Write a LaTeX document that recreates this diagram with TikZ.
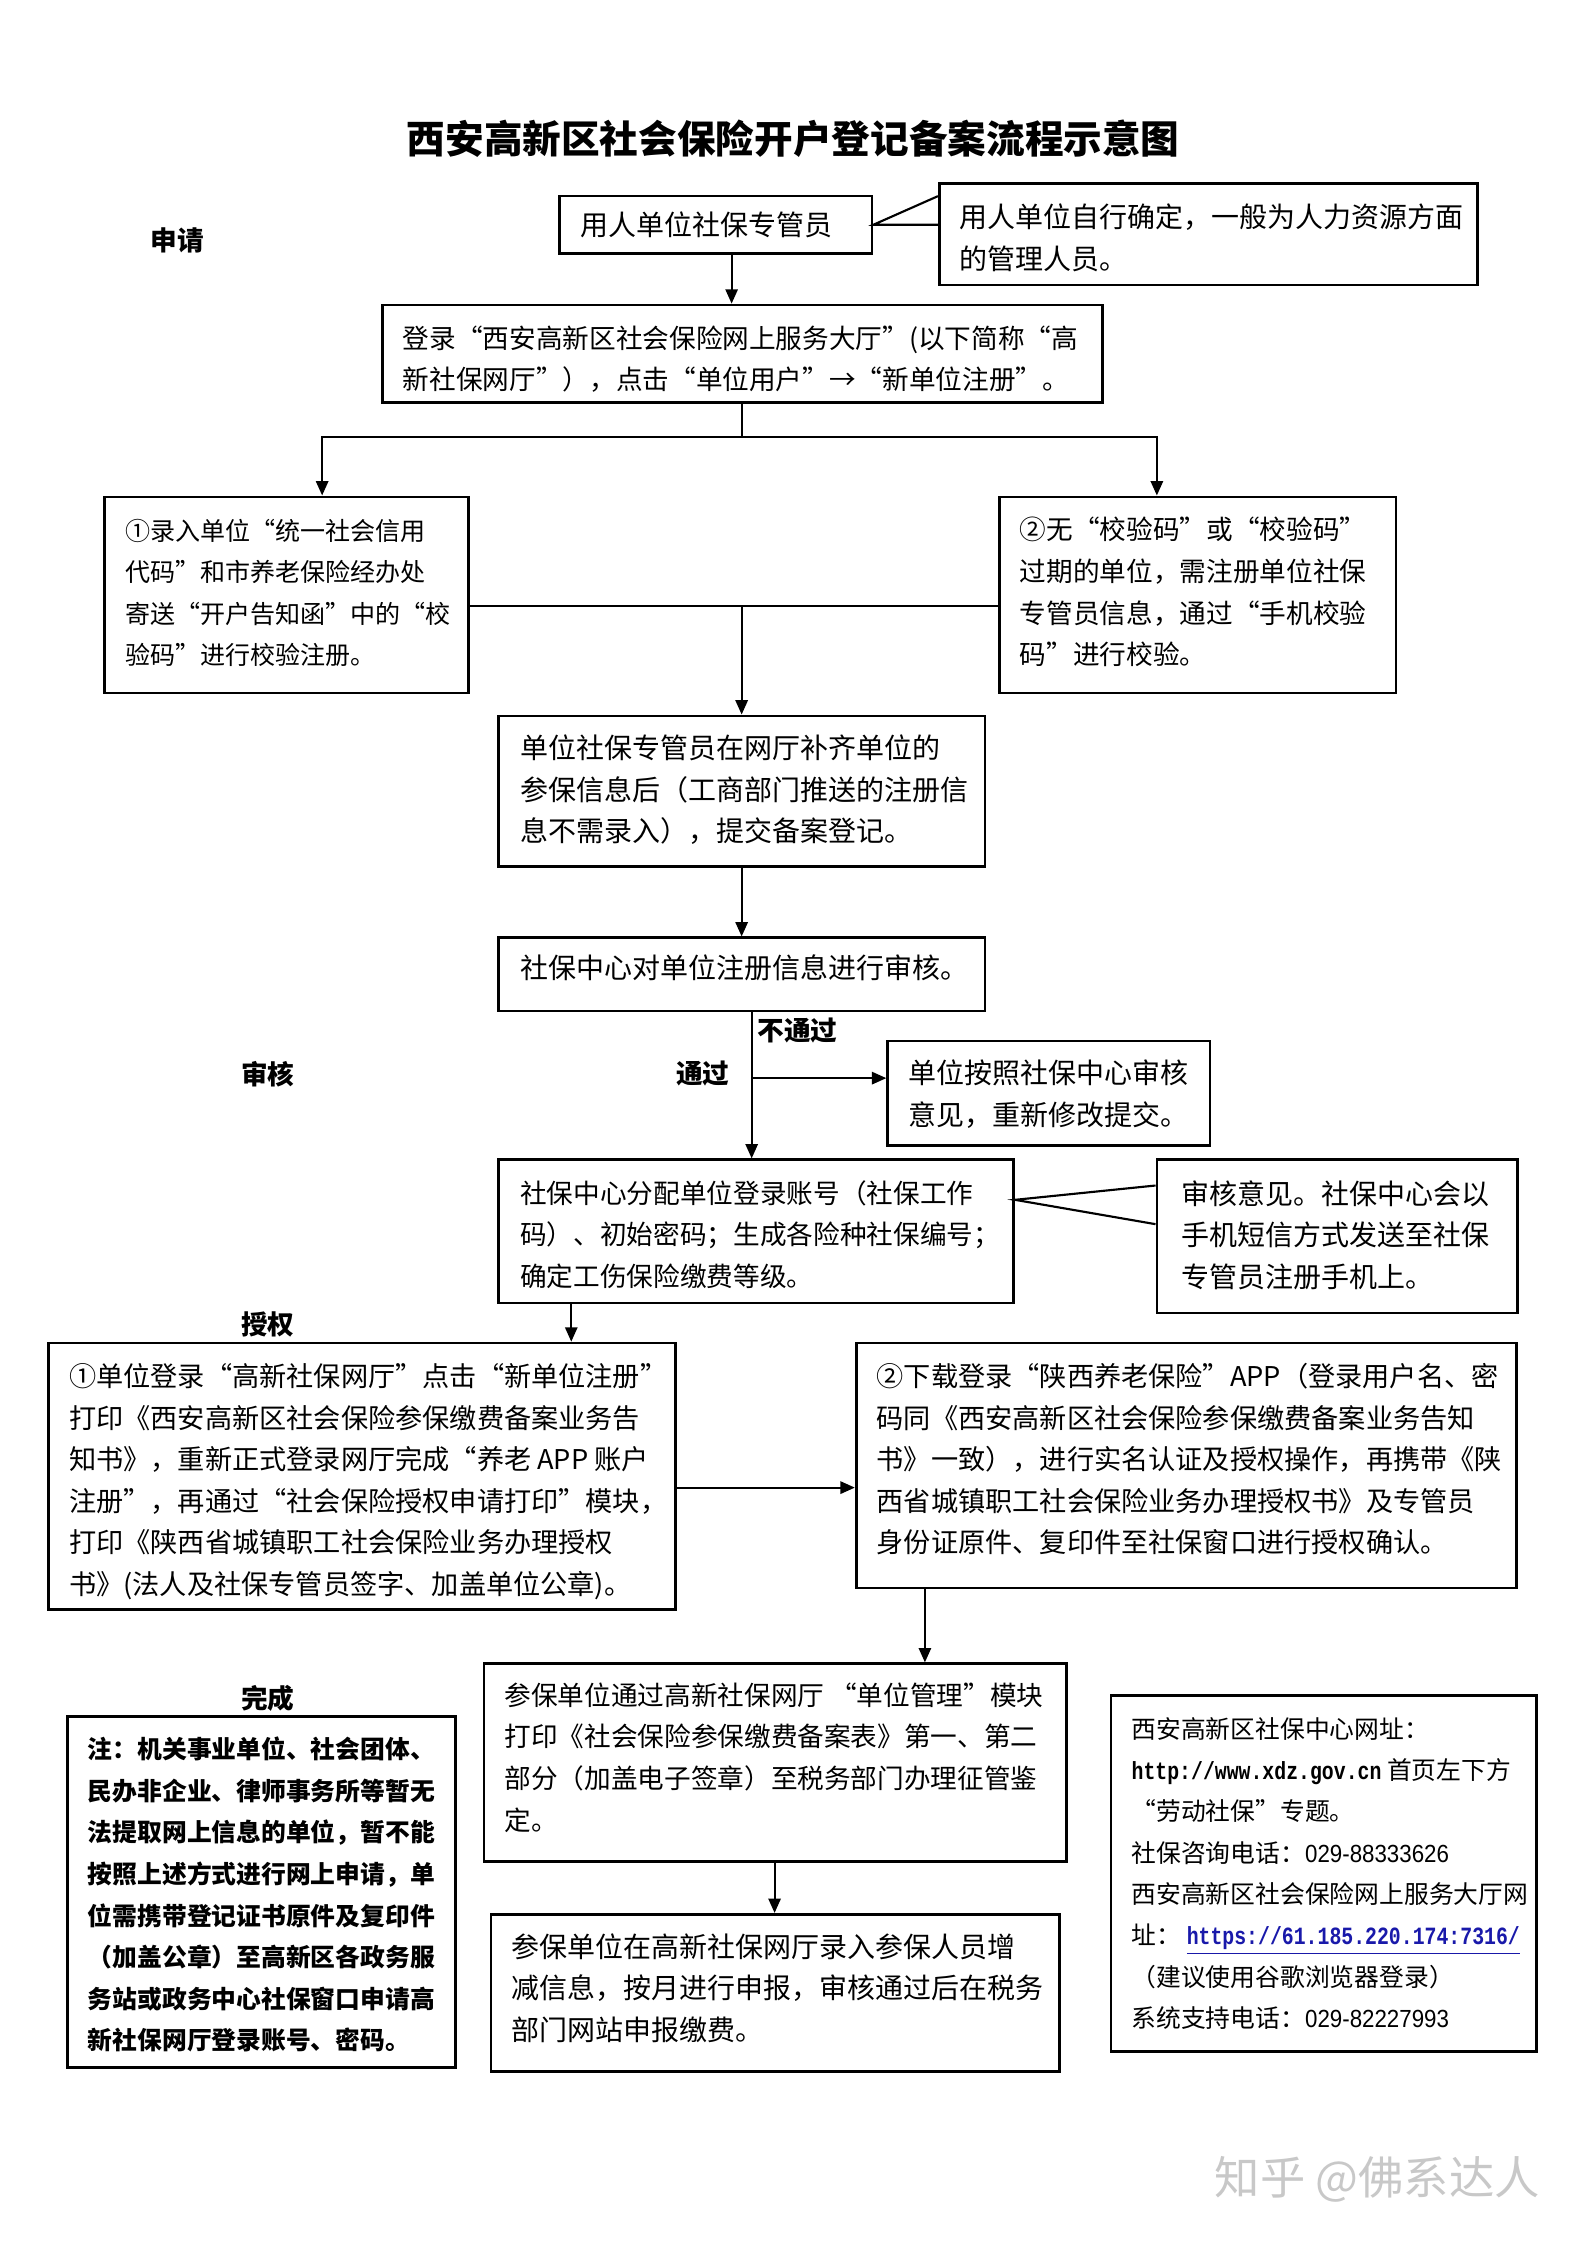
\documentclass[tikz,border=0pt]{standalone}
\usepackage{fontspec}
\setmainfont{Noto Sans CJK SC}
\newfontfamily\urlfont[FakeStretch=0.8]{Liberation Mono}
\newfontfamily\digitfont[FakeStretch=0.9]{Liberation Sans}
\usetikzlibrary{arrows.meta,fit,calc}
\definecolor{linkblue}{RGB}{25,25,170}
\definecolor{wm}{RGB}{200,200,200}
\newcommand\myfs[2][15.58]{\fontsize{#2}{#1}\selectfont}
\begin{document}
\begin{tikzpicture}[x=0.53725pt,y=-0.53725pt,
  box/.style={draw=black, line width=1pt, inner sep=0pt},
  txt/.style={inner sep=0pt, anchor=north west, align=left},
  lbl/.style={inner sep=0pt, font=\myfs{10}\bfseries},
  arr/.style={line width=0.8pt, -{Triangle[length=5.4pt,width=4.6pt]}},
  con/.style={line width=0.8pt}]
\fill[white] (0,0) rectangle (1108,1568);
\useasboundingbox (0,0) rectangle (1108,1568);

% title and section labels
\node[inner sep=0pt, font=\fontsize{14.5}{18}\selectfont\bfseries] (title) at (554,97) {西安高新区社会保险开户登记备案流程示意图};
\node[lbl] (l1) at (124,168) {申请};
\node[lbl] (l2) at (187,750) {审核};
\node[lbl] (l3) at (187,925) {授权};
\node[lbl] (l4) at (187,1186) {完成};
\node[lbl] (l5) at (557,720) {不通过};
\node[lbl] (l6) at (491,750) {通过};

% boxes
\node[box, fit={(391,137) (609,177)}] (A) {};
\node[box, fit={(656,128) (1032,199)}] (B) {};
\node[box, fit={(267,213) (770,281)}] (C) {};
\node[box, fit={(73,347) (327,484)}] (D) {};
\node[box, fit={(698,347) (975,484)}] (E) {};
\node[box, fit={(348,500) (688,605)}] (F) {};
\node[box, fit={(348,655) (688,706)}] (G) {};
\node[box, fit={(620,727) (845,800)}] (I) {};
\node[box, fit={(348,810) (708,910)}] (H) {};
\node[box, fit={(808,810) (1060,917)}] (J) {};
\node[box, fit={(34,938) (472,1124)}] (K) {};
\node[box, fit={(598,938) (1059,1109)}] (L) {};
\node[box, fit={(338,1162) (745,1300)}] (M) {};
\node[box, fit={(343,1337) (740,1447)}] (N) {};
\node[box, fit={(47,1199) (318,1444)}] (O) {};
\node[box, fit={(776,1184) (1073,1433)}] (P) {};

% texts
\node[txt, anchor=west, font=\myfs{10.5}] (At) at (405,157) {用人单位社保专管员};
\node[txt, font=\myfs{10.5}] (Bt) at (670,142) {用人单位自行确定，一般为人力资源方面\\的管理人员。};
\node[txt, font=\myfs{10}] (Ct) at (281,227) {登录“西安高新区社会保险网上服务大厅”(以下简称“高\\新社保网厅”），点击“单位用户”→“新单位注册”。};
\node[txt, font=\myfs{9.4}] (Dt) at (87,362) {①录入单位“统一社会信用\\代码”和市养老保险经办处\\寄送“开户告知函”中的“校\\验码”进行校验注册。};
\node[txt, font=\myfs{10}] (Et) at (712,361) {②无“校验码”或“校验码”\\过期的单位，需注册单位社保\\专管员信息，通过“手机校验\\码”进行校验。};
\node[txt, font=\myfs{10.5}] (Ft) at (363,513) {单位社保专管员在网厅补齐单位的\\参保信息后（工商部门推送的注册信\\息不需录入），提交备案登记。};
\node[txt, anchor=west, font=\myfs{10.5}] (Gt) at (363,676) {社保中心对单位注册信息进行审核。};
\node[txt, font=\myfs{10.5}] (It) at (634,740) {单位按照社保中心审核\\意见，重新修改提交。};
\node[txt, font=\myfs{10}] (Ht) at (363,824) {社保中心分配单位登录账号（社保工作\\码）、初始密码；生成各险种社保编号；\\确定工伤保险缴费等级。};
\node[txt, font=\myfs{10.5}] (Jt) at (825,824) {审核意见。社保中心会以\\手机短信方式发送至社保\\专管员注册手机上。};
\node[txt, font=\myfs{10.2}] (Kt) at (48,952) {①单位登录“高新社保网厅”点击“新单位注册”\\打印《西安高新区社会保险参保缴费备案业务告\\知书》，重新正式登录网厅完成“养老 APP 账户\\注册”，再通过“社会保险授权申请打印”模块，\\打印《陕西省城镇职工社会保险业务办理授权\\书》(法人及社保专管员签字、加盖单位公章)。};
\node[txt, font=\myfs{10.2}] (Lt) at (612,952) {②下载登录“陕西养老保险”APP（登录用户名、密\\码同《西安高新区社会保险参保缴费备案业务告知\\书》一致），进行实名认证及授权操作，再携带《陕\\西省城镇职工社会保险业务办理授权书》及专管员\\身份证原件、复印件至社保窗口进行授权确认。};
\node[txt, font=\myfs{10}] (Mt) at (352,1175) {参保单位通过高新社保网厅 “单位管理”模块\\打印《社会保险参保缴费备案表》第一、第二\\部分（加盖电子签章）至税务部门办理征管鉴\\定。};
\node[txt, font=\myfs{10.5}] (Nt) at (357,1350) {参保单位在高新社保网厅录入参保人员增\\减信息，按月进行申报，审核通过后在税务\\部门网站申报缴费。};
\node[txt, font=\myfs{9.3}\bfseries] (Ot) at (61,1213) {注：机关事业单位、社会团体、\\民办非企业、律师事务所等暂无\\法提取网上信息的单位，暂不能\\按照上述方式进行网上申请，单\\位需携带登记证书原件及复印件\\（加盖公章）至高新区各政务服\\务站或政务中心社保窗口申请高\\新社保网厅登录账号、密码。};
\node[txt, font={\myfs[15.5]{9.3}}] (Pt) at (790,1199) {西安高新区社保中心网址：\\{\urlfont\bfseries http://www.xdz.gov.cn} 首页左下方\\“劳动社保”专题。\\社保咨询电话：{\digitfont 029-88333626}\\西安高新区社会保险网上服务大厅网\\址： {\color{linkblue}\underline{\urlfont\bfseries https://61.185.220.174:7316/}}\\（建议使用谷歌浏览器登录）\\系统支持电话：{\digitfont 029-82227993}};

% watermark
\node[inner sep=0pt, text=wm, font=\fontsize{17}{20}\selectfont] (wmk) at (962,1522) {知乎 @佛系达人};

% connectors
\draw[con] (B.west |- 0,137) -- (A.east) -- (B.west |- A.east);
\coordinate (xa) at (511,0);
\draw[arr] (A.south -| xa) -- (C.north -| xa);
\coordinate (split) at (518,305);
\draw[con] (C.south -| split) -- (split);
\draw[arr] (split) -| (D.north -| 225,0);
\draw[arr] (split) -| (E.north -| 808,0);
\coordinate (mj) at (518,423);
\draw[con] (D.east |- mj) -- (E.west |- mj);
\draw[arr] (mj) -- (F.north -| mj);
\draw[arr] (F.south -| mj) -- (G.north -| mj);
\coordinate (pass) at (525,753);
\draw[arr] (G.south -| pass) -- (H.north -| pass);
\draw[arr] (pass) -- (I.west |- pass);
\draw[con] (J.west |- 0,828) -- (H.east |- 0,838) -- (J.west |- 0,855);
\draw[arr] (H.south -| 399,0) -- (K.north -| 399,0);
\draw[arr] (K.east |- 0,1039) -- (L.west |- 0,1039);
\draw[arr] (L.south -| 646,0) -- (M.north -| 646,0);
\draw[arr] (M.south -| 541,0) -- (N.north -| 541,0);
\end{tikzpicture}
\end{document}
